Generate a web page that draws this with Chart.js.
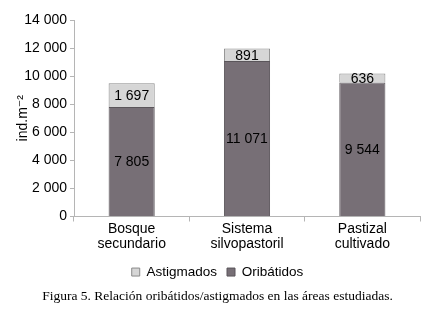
<!DOCTYPE html>
<html>
<head>
<meta charset="utf-8">
<script src="https://cdn.jsdelivr.net/npm/chart.js@4"></script>
<style>
  html, body { margin: 0; padding: 0; background: #fff; }
  canvas { display: block; }
</style>
</head>
<body>
<canvas id="chart" width="435" height="312"></canvas>
<script>
// values
const areas = [["Bosque", "secundario"], ["Sistema", "silvopastoril"], ["Pastizal", "cultivado"]];
const oribatidos = [7805, 11071, 9544];
const astigmados = [1697, 891, 636];
const yTicks = [0, 2000, 4000, 6000, 8000, 10000, 12000, 14000];

const sans = "'Liberation Sans', Arial, 'DejaVu Sans', sans-serif";

function fmt(v) {
    return String(v).replace(/\B(?=(\d{3})+(?!\d))/g, " ");
}

// numbers drawn in the middle of each stacked segment
const segmentLabels = {
    id: "segmentLabels",
    afterDatasetsDraw(chart) {
        const ctx = chart.ctx;
        ctx.save();
        ctx.font = "14px " + sans;
        ctx.fillStyle = "#000";
        ctx.textAlign = "center";
        ctx.textBaseline = "middle";
        chart.data.datasets.forEach((ds, i) => {
            const meta = chart.getDatasetMeta(i);
            meta.data.forEach((bar, j) => {
                const mid = (bar.y + bar.base) / 2;
                ctx.fillText(fmt(ds.data[j]), bar.x, mid + 1);
            });
        });
        ctx.restore();
    }
};

const ctx = document.getElementById("chart").getContext("2d");
new Chart(ctx, {
    type: "bar",
    data: {
        labels: areas,
        datasets: [
            {
                label: "Oribátidos",
                data: oribatidos,
                backgroundColor: "#776f76",
                borderColor: "#5a555a",
                borderWidth: 1
            },
            {
                label: "Astigmados",
                data: astigmados,
                backgroundColor: "#d6d6d6",
                borderColor: "#8a8a8a",
                borderWidth: 1
            }
        ]
    },
    options: {
        responsive: false,
        animation: false,
        layout: { padding: { left: 15, right: 15, top: 20, bottom: 3 } },
        datasets: { bar: { categoryPercentage: 0.4, barPercentage: 1 } },
        scales: {
            x: {
                stacked: true,
                afterFit(scale) { scale.height += 3; },
                grid: { drawOnChartArea: false, color: "#b5b5b5", tickLength: 5, offset: true },
                border: { color: "#b5b5b5" },
                ticks: { color: "#000", font: { family: sans, size: 14, lineHeight: 1.1 }, padding: 0, maxRotation: 0 }
            },
            y: {
                stacked: true,
                min: 0,
                max: 14000,
                afterBuildTicks(scale) {
                    scale.ticks = yTicks.map(v => ({ value: v }));
                },
                afterFit(scale) { scale.width = 59; },
                grid: { drawOnChartArea: false, color: "#b5b5b5", tickLength: 4 },
                border: { color: "#b5b5b5" },
                ticks: {
                    color: "#000",
                    font: { family: sans, size: 14 },
                    padding: 3,
                    callback: v => fmt(v)
                },
                title: {
                    display: true,
                    text: "ind.m\u207B\u00B2",
                    color: "#000",
                    font: { family: sans, size: 14 },
                    padding: 0
                }
            }
        },
        plugins: {
            legend: {
                position: "bottom",
                reverse: true,
                labels: {
                    color: "#000",
                    font: { family: sans, size: 13.5 },
                    boxWidth: 8,
                    boxHeight: 8,
                    padding: 10
                }
            },
            title: {
                display: true,
                position: "bottom",
                text: "Figura 5. Relación oribátidos/astigmados en las áreas estudiadas.",
                color: "#000",
                font: { family: "'Liberation Serif', 'Times New Roman', serif", size: 13.5, weight: "normal" },
                padding: { top: 0, bottom: 4 }
            },
            tooltip: { enabled: false }
        }
    },
    plugins: [segmentLabels]
});
</script>
</body>
</html>
